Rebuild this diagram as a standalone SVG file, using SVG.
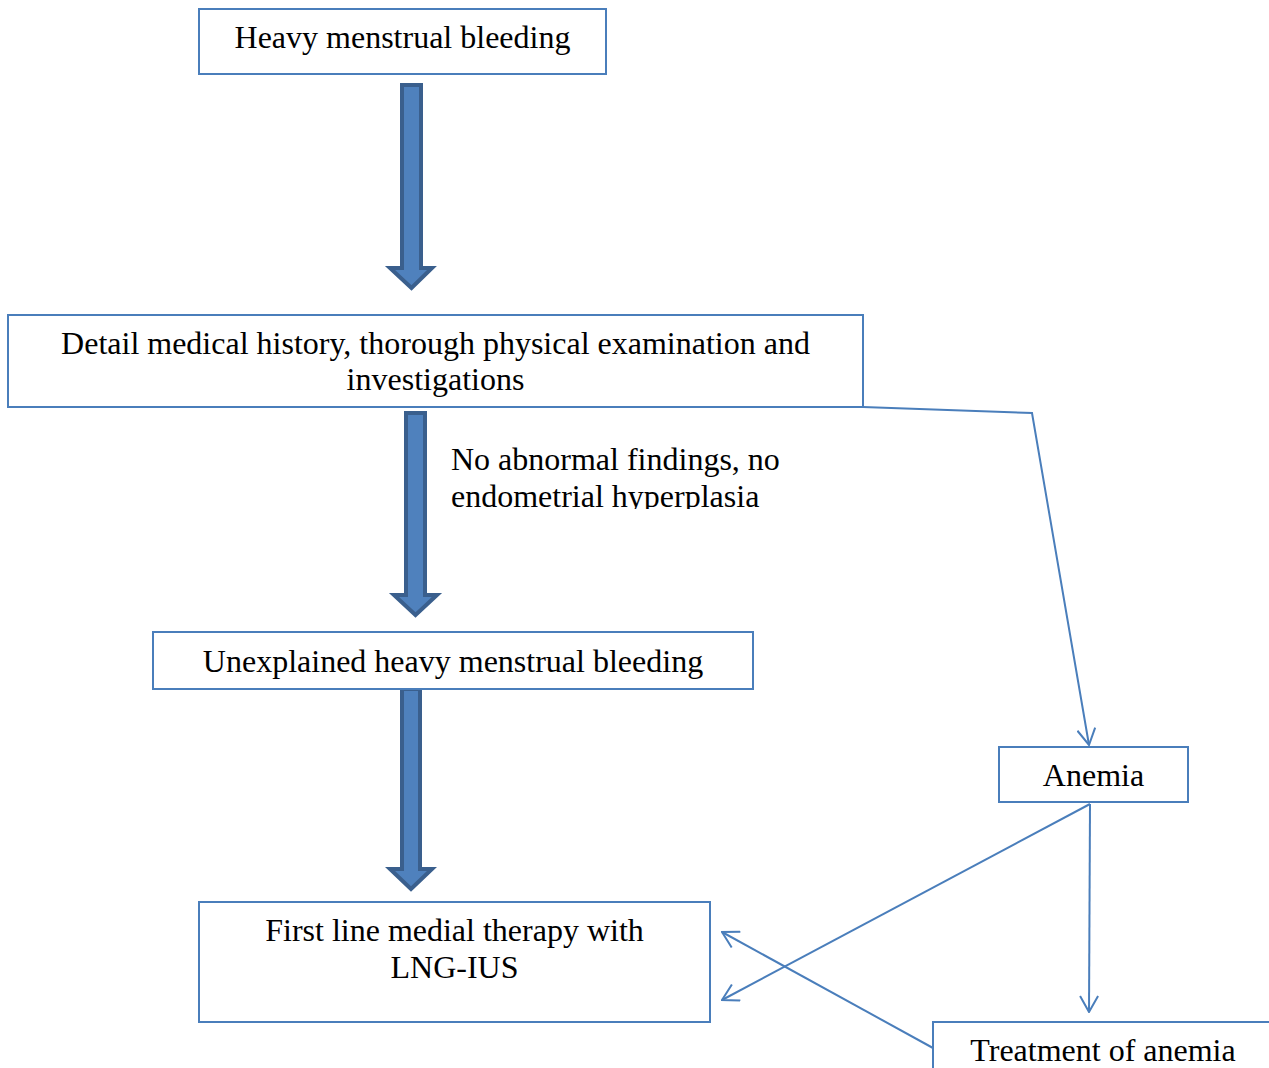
<svg xmlns="http://www.w3.org/2000/svg" width="1269" height="1068" viewBox="0 0 1269 1068">
<style>
.box{fill:#fff;stroke:#4A7EBB;stroke-width:2}
.t{font-family:"Liberation Serif","Times New Roman",serif;font-size:32px;fill:#000;text-anchor:middle}
.tl{font-family:"Liberation Serif","Times New Roman",serif;font-size:32px;fill:#000}
.blk{fill:#4F81BD;stroke:#3A5F8D;stroke-width:4;stroke-linejoin:miter}
.con{fill:none;stroke:#4A7EBB;stroke-width:2}
</style>
<defs>
<marker id="open" viewBox="0 0 18 20" refX="17" refY="10" markerWidth="18" markerHeight="20" markerUnits="userSpaceOnUse" orient="auto">
<path d="M1,1 L17,10 L1,19" fill="none" stroke="#4A7EBB" stroke-width="2"/>
</marker>
<clipPath id="lblclip"><rect x="440" y="430" width="400" height="79"/></clipPath>
</defs>
<rect width="1269" height="1068" fill="#fff"/>
<g id="connectors">
<polygon class="blk" points="402,85 421,85 421,268 432,268 411.5,288 390,268 402,268"/>
<polygon class="blk" points="406,413 425,413 425,595 437,595 415.5,615 394,595 406,595"/>
<polygon class="blk" points="402,689 420,689 420,869 432,869 411,889 390,869 402,869"/>
<polyline class="con" points="863,407 1032,413 1089,745" marker-end="url(#open)"/>
<line class="con" x1="1090" y1="804" x2="1089" y2="1012" marker-end="url(#open)"/>
<line class="con" x1="1090" y1="804" x2="722" y2="1000" marker-end="url(#open)"/>
<line class="con" x1="933" y1="1048" x2="722" y2="932" marker-end="url(#open)"/>
<g clip-path="url(#lblclip)">
<text class="tl" x="451" y="470">No abnormal findings, no</text>
<text class="tl" x="451" y="507">endometrial hyperplasia</text>
</g>
</g>
<g id="n1"><rect class="box" x="199" y="9" width="407" height="65"/><text class="t" x="402.5" y="48">Heavy menstrual bleeding</text></g>
<g id="n2"><rect class="box" x="8" y="315" width="855" height="92"/><text class="t" x="435.5" y="354">Detail medical history, thorough physical examination and</text><text class="t" x="435.5" y="390">investigations</text></g>
<g id="n3"><rect class="box" x="153" y="632" width="600" height="57"/><text class="t" x="453" y="672">Unexplained heavy menstrual bleeding</text></g>
<g id="n4"><rect class="box" x="199" y="902" width="511" height="120"/><text class="t" x="454.5" y="941">First line medial therapy with</text><text class="t" x="454.5" y="978">LNG-IUS</text></g>
<g id="n5"><rect class="box" x="999" y="747" width="189" height="55"/><text class="t" x="1093.5" y="786">Anemia</text></g>
<g id="n6"><rect class="box" x="933" y="1022" width="345" height="60"/><text class="t" x="1103" y="1061">Treatment of anemia</text></g>
</svg>
